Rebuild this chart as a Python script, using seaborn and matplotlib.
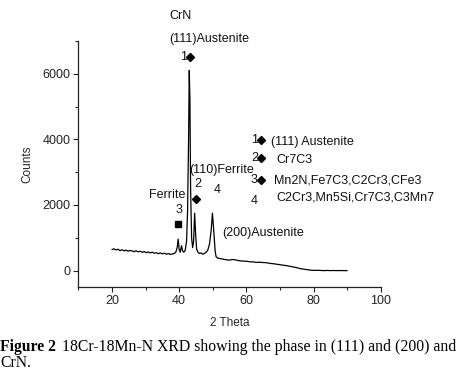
import matplotlib
matplotlib.use("Agg")
import matplotlib.pyplot as plt
import seaborn as sns
import pandas as pd

# ---- data ----
two_theta = [20.0, 20.6, 21.2, 21.8, 22.4, 23.0, 23.6, 24.2, 24.8, 25.4, 26.0, 26.6, 27.2, 27.8,
             28.4, 29.0, 29.6, 30.2, 30.8, 31.4, 32.0, 32.6, 33.2, 33.8, 34.4, 35.0, 35.6, 36.2,
             36.8, 37.4, 38.0, 38.5, 39.0, 39.4, 39.7, 40.0, 40.3, 40.7, 41.0, 41.4, 41.8, 42.2,
             42.5, 42.8, 43.0, 43.2, 43.4, 43.7, 44.0, 44.3, 44.6, 44.9, 45.2, 45.6, 46.0, 46.5,
             47.0, 47.5, 48.0, 48.5, 49.0, 49.5, 49.9, 50.3, 50.7, 51.0, 51.5, 52.0, 53.0, 54.0,
             55.0, 56.0, 57.0, 58.0, 59.0, 60.0, 61.0, 62.0, 63.0, 64.0, 65.0, 66.0, 67.0, 68.0,
             69.0, 70.0, 71.0, 72.0, 73.0, 74.0, 75.0, 76.0, 77.0, 78.0, 79.0, 80.0, 81.0, 82.0,
             83.0, 84.0, 85.0, 86.0, 87.0, 88.0, 89.0, 90.0]
counts = [640, 665, 630, 650, 610, 635, 600, 625, 590, 615, 600, 575, 605, 570,
          590, 560, 580, 545, 570, 540, 560, 530, 545, 515, 540, 510, 530, 500,
          520, 495, 505, 520, 560, 700, 960, 640, 560, 760, 600, 560, 620, 900,
          1800, 4000, 6100, 5200, 2500, 1000, 700, 900, 1750, 1100, 650, 560, 520, 540,
          500, 520, 560, 620, 800, 1200, 1750, 1200, 600, 420, 380, 370, 350, 330,
          320, 340, 320, 300, 290, 285, 270, 265, 250, 255, 245, 240, 220, 210,
          195, 180, 165, 150, 130, 110, 90, 60, 45, 30, 15, 5, 10, 5,
          0, 5, 0, 3, 0, 2, 0, 0]

y_ticks = [0, 2000, 4000, 6000]
x_ticks = [20, 40, 60, 80, 100]

peak_labels = ["CrN", "(111)Austenite", "(110)Ferrite", "Ferrite", "(200)Austenite"]
legend_nums = ["1", "2", "3", "4"]
legend_texts = ["(111) Austenite", "Cr7C3", "Mn2N,Fe7C3,C2Cr3,CFe3", "C2Cr3,Mn5Si,Cr7C3,C3Mn7"]

df = pd.DataFrame({"2 Theta": two_theta, "Counts": counts})

sns.set_theme(style="ticks")
plt.rcParams["font.family"] = ["Liberation Sans", "DejaVu Sans"]

W, H = 461, 374
fig = plt.figure(figsize=(4.61, 3.74), dpi=100)
fig.patch.set_facecolor("white")
ax = fig.add_axes([0.170, 0.2326, 0.656, 0.658])
ax.set_facecolor("white")

sns.lineplot(data=df, x="2 Theta", y="Counts", ax=ax, color="black", linewidth=0.9)

ax.set_xlim(10, 100)
ax.set_ylim(-500, 7000)
ax.set_xticks(x_ticks)
ax.set_yticks(y_ticks)
ax.set_xticks(range(10, 101, 10), minor=True)
ax.set_yticks(range(-0, 7001, 1000), minor=True)
ax.tick_params(axis="both", which="major", direction="out", length=3.5, width=0.8,
               labelsize=9, colors="#222222", pad=2)
ax.tick_params(axis="both", which="minor", direction="out", length=2.2, width=0.8)
for s in ["top", "right"]:
    ax.spines[s].set_visible(False)
for s in ["left", "bottom"]:
    ax.spines[s].set_linewidth(0.9)
    ax.spines[s].set_color("#222222")
ax.set_xlabel("2 Theta", fontsize=8.5)
ax.set_ylabel("Counts", fontsize=8.5)
ax.xaxis.set_label_coords(0.50, -0.12)
ax.yaxis.set_label_coords(-0.148, 0.5)


def px(xp):
    return 10 + (xp - 78.4) / 3.36


def py(yp):
    return (270 - yp) * 2000 / 65.5


fs = 9
tk = dict(fontsize=fs, color="#111111", clip_on=False)
# peak labels
ax.text(px(181), py(16), peak_labels[0], ha="center", va="center", **tk)
ax.text(px(169), py(39), peak_labels[1], ha="left", va="center", **tk)
ax.text(px(183.5), py(57), "1", ha="center", va="center", **tk)
ax.plot([px(190)], [py(57)], marker="D", color="black", markersize=3.8, clip_on=False)
ax.text(px(189), py(170), peak_labels[2], ha="left", va="center", **tk)
ax.text(px(198), py(184), "2", ha="center", va="center", **tk)
ax.plot([px(196.5)], [py(198.5)], marker="D", color="black", markersize=3.8, clip_on=False)
ax.text(px(217.5), py(190), "4", ha="center", va="center", **tk)
ax.text(px(167), py(195), peak_labels[3], ha="center", va="center", **tk)
ax.text(px(179), py(210), "3", ha="center", va="center", **tk)
ax.plot([px(177.7)], [py(223.5)], marker="s", color="black", markersize=4.5, clip_on=False)
ax.text(px(222), py(232), peak_labels[4], ha="left", va="center", **tk)

# legend-like block
num_px = [255, 255, 254, 254]
num_py = [140, 158, 179.5, 200.5]
txt_px = [271, 276, 274, 276]
txt_py = [142, 160, 180, 197]
for i in range(4):
    ax.text(px(num_px[i]), py(num_py[i]), legend_nums[i], ha="center", va="center", **tk)
    ax.text(px(txt_px[i]), py(txt_py[i]), legend_texts[i], ha="left", va="center", **tk)
    if i < 3:
        ax.plot([px(260.8)], [py(num_py[i])], marker="D", color="black", markersize=3.8,
                clip_on=False)

# caption
cap = dict(fontsize=11.3, color="black", family=["Liberation Serif", "DejaVu Serif"])
fig.text(0.0, 1 - 347 / H, "Figure 2", fontweight="bold", va="center", ha="left", **cap)
fig.text(62 / W, 1 - 347 / H, "18Cr-18Mn-N XRD showing the phase in (111) and (200) and",
         va="center", ha="left", **cap)
fig.text(0.0, 1 - 363 / H, "CrN.", va="center", ha="left", **cap)

fig.savefig("out.png", dpi=100, facecolor="white")
